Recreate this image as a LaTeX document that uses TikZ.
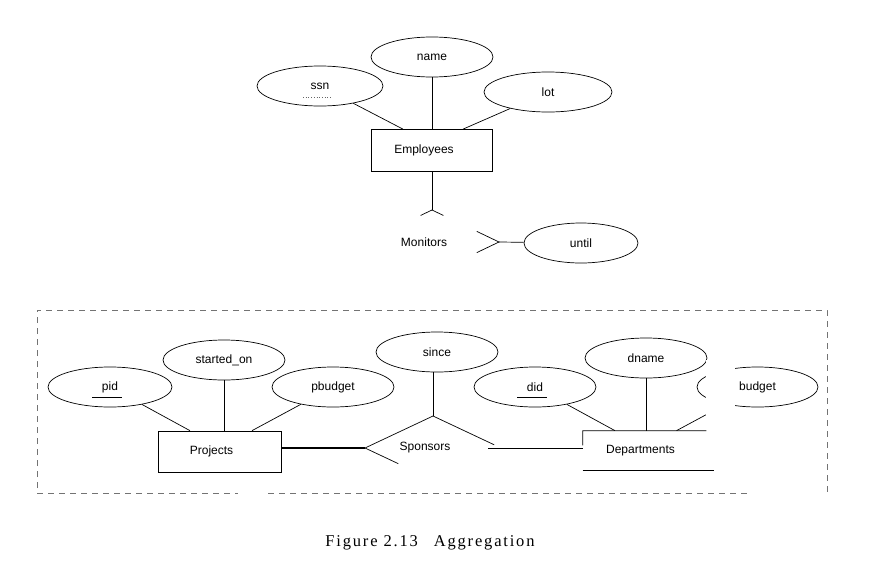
\documentclass[tikz,border=0pt]{standalone}
\usepackage{fontspec}
\setmainfont{Liberation Sans}
\newfontfamily\capfont[LetterSpace=11]{Liberation Serif}
\usetikzlibrary{shapes.geometric,calc}
\begin{document}
\begin{tikzpicture}[x=1pt,y=-1pt,line width=0.7pt,
  every node/.style={font=\fontsize{12}{14}\selectfont},
  attr/.style={ellipse,draw,inner sep=0pt,minimum width=122pt,minimum height=40pt},
  entity/.style={rectangle,draw,inner sep=0pt,minimum width=121pt,minimum height=42pt,
    execute at begin node={\hspace*{-16pt}}},
  rel/.style={diamond,inner sep=0pt,outer sep=0pt,minimum width=134pt,minimum height=64pt,
    execute at begin node={\hspace*{-16pt}}}]
  \useasboundingbox (0,0) rectangle (873,573);
  % Employees monitors the aggregation
  \node[attr] (name) at (432,57) {name};
  \node[attr,minimum width=126pt] (ssn) at (320,86) {ssn};
  \node[attr,minimum width=128pt] (lot) at (548,92) {lot};
  \node[entity] (emp) at (432,150.5) {Employees};
  \node[rel] (mon) at (432,242) {Monitors};
  \node[attr,minimum width=114pt] (until) at (581,243) {until};
  \draw[dotted,black!60] (ssn.center) ++(-17,11) -- ++(29,0);
  \draw (ssn) -- ($(emp.north)+(-29,0)$);
  \draw (name) -- (emp);
  \draw (lot) -- ($(emp.north)+(31,0)$);
  \draw (emp) -- (mon.north);
  \draw ($(mon.north)!0.17!(mon.west)$) -- (mon.north) -- ($(mon.north)!0.17!(mon.east)$);
  \draw ($(mon.east)!0.33!(mon.north)$) -- (mon.east) -- ($(mon.east)!0.33!(mon.south)$);
  \draw (mon.east) -- (until);
  % Projects -- Sponsors -- Departments
  \node[attr] (started) at (224,360) {started\_on};
  \node[attr,minimum width=124pt] (pid) at (110,387) {pid};
  \node[attr] (pbudget) at (333,387) {pbudget};
  \node[entity,minimum width=123pt,minimum height=41pt] (proj) at (219.5,451.5) {Projects};
  \node[attr] (since) at (437,352) {since};
  \node[rel,minimum width=136pt] (spo) at (433,448) {Sponsors};
  \node[attr] (did) at (535,387) {did};
  \node[attr] (dname) at (646,358) {dname};
  \node[attr,minimum width=121pt] (budget) at (757.5,387) {budget};
  \node[entity,draw=none,minimum width=131pt,minimum height=39pt] (dept) at (648.5,450.5) {Departments};
  \draw (pid.center) ++(-18,10) -- ++(30,0);
  \draw (did.center) ++(-18,10) -- ++(30,0);
  \draw (pid) -- ($(proj.north)+(-29.5,0)$);
  \draw (started) -- (started |- proj.north);
  \draw (pbudget) -- ($(proj.north)+(32.5,0)$);
  \draw[line width=1.6pt] (proj.east |- spo.west) -- (spo.west);
  \draw (since.south -| spo.north) -- (spo.north);
  \draw ($(spo.west)!0.49!(spo.south)$) -- (spo.west) -- (spo.north) -- ($(spo.north)!0.9!(spo.east)$);
  \draw ($(spo.east)+(-13,0)$) -- (dept.west |- spo.east);
  \draw (did) -- ($(dept.north)+(-33.5,0)$);
  \draw (dname) -- (dname |- dept.north);
  \draw (budget) -- ($(dept.north)+(28,0)$);
  % gap in the scan
  \fill[white] (706,360) rectangle (735,429);
  \draw ($(dept.north west)!0.37!(dept.south west)$) -- (dept.north west) -- ($(dept.north east)+(-8,0)$);
  \draw (dept.south west) -- (dept.south east);
  % aggregation box
  \begin{scope}[black!55,dash pattern=on 6pt off 5pt,line width=0.6pt]
    \draw (37,488) -- (37,310) -- (827,310) -- (827,493);
    \draw (37,493) -- (238,493);
    \draw (268,493) -- (747,493);
  \end{scope}
  \node[font=\capfont\fontsize{16.5}{19}\selectfont] (caption) at (430,543) {Figure 2.13\hspace{16pt}Aggregation};
\end{tikzpicture}
\end{document}
